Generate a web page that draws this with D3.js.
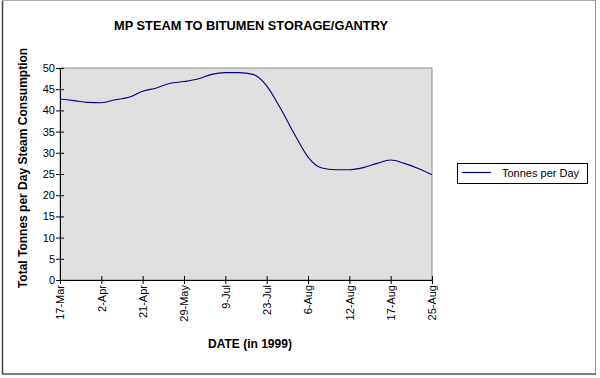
<!DOCTYPE html>
<html>
  <head>
    <meta charset="utf-8" />
    <title>MP Steam to Bitumen Storage/Gantry</title>
    <script src="https://d3js.org/d3.v7.min.js"></script>
    <style>
      body { margin: 0; background: #fff; }
      text { font-family: "Liberation Sans", Arial, sans-serif; }
    </style>
  </head>
  <body>
    <svg id="chart"></svg>
    <script>
      // label shown every 3rd point
      var dates = ["17-Mar", "", "", "2-Apr", "", "", "21-Apr", "", "", "29-May", "", "",
                   "9-Jul", "", "", "23-Jul", "", "", "6-Aug", "", "", "12-Aug", "", "",
                   "17-Aug", "", "", "25-Aug"];
      var tonnes = [42.7, 42.3, 41.9, 41.8, 42.5, 43.1, 44.5, 45.3, 46.4, 46.8, 47.4, 48.5,
                    48.9, 48.9, 48.5, 45.8, 40.5, 34.5, 29.0, 26.4, 26.0, 26.0, 26.5, 27.5,
                    28.3, 27.5, 26.3, 24.8];
      var yTicks = [0, 5, 10, 15, 20, 25, 30, 35, 40, 45, 50];

      var width = 600, height = 378;
      var margin = {top: 68, right: 168, bottom: 98, left: 60};
      var chartWidth = width - margin.left - margin.right;
      var chartHeight = height - margin.top - margin.bottom;

      var svg = d3.select("#chart").attr("width", width).attr("height", height);

      // outer frame
      svg.append("line").attr("x1", 2.5).attr("x2", 2.5).attr("y1", 0).attr("y2", 374)
        .attr("stroke", "#444").attr("stroke-width", 1.5);
      svg.append("line").attr("x1", 2).attr("x2", 596).attr("y1", 0.5).attr("y2", 0.5)
        .attr("stroke", "#aaa");
      svg.append("line").attr("x1", 595.5).attr("x2", 595.5).attr("y1", 0).attr("y2", 374)
        .attr("stroke", "#999");
      svg.append("line").attr("x1", 2).attr("x2", 596).attr("y1", 374).attr("y2", 374)
        .attr("stroke", "#555").attr("stroke-width", 1.5);

      var idx = d3.range(tonnes.length);
      var x = d3.scaleLinear().domain([0, tonnes.length - 1])
        .range([margin.left, margin.left + chartWidth]);
      var y = d3.scaleLinear().domain([0, 50])
        .range([margin.top + chartHeight, margin.top]);

      // plot background
      svg.append("rect")
        .attr("x", margin.left).attr("y", margin.top)
        .attr("width", chartWidth).attr("height", chartHeight)
        .attr("fill", "#e0e0e0").attr("stroke", "#8c8c8c");

      // y axis
      var yAxis = d3.axisLeft(y).tickValues(yTicks).tickSize(4).tickSizeOuter(0);
      var gy = svg.append("g")
        .attr("transform", "translate(" + margin.left + ",0)")
        .call(yAxis);
      gy.select(".domain").attr("stroke", "#000");
      gy.selectAll(".tick line").attr("stroke", "#000").attr("x2", 4).attr("x1", -4);
      gy.selectAll("text").attr("font-size", 11).attr("fill", "#000").attr("x", -5);

      // x axis, tick + label every 3rd point
      var labelIdx = idx.filter(function(i) { return dates[i] !== ""; });
      var xAxis = d3.axisBottom(x).tickValues(labelIdx)
        .tickFormat(function(i) { return dates[i]; })
        .tickSize(4).tickSizeOuter(0);
      var gx = svg.append("g")
        .attr("transform", "translate(0," + (margin.top + chartHeight) + ")")
        .call(xAxis);
      gx.select(".domain").attr("stroke", "#000");
      gx.selectAll(".tick line").attr("stroke", "#000").attr("y1", -4).attr("y2", 4);
      gx.selectAll("text")
        .attr("font-size", 11).attr("fill", "#000")
        .attr("transform", "rotate(-90)")
        .attr("x", -5).attr("y", 0).attr("dy", "0.35em")
        .attr("text-anchor", "end");

      // line
      var line = d3.line()
        .x(function(i) { return x(i); })
        .y(function(i) { return y(tonnes[i]); })
        .curve(d3.curveMonotoneX);
      svg.append("path").datum(idx)
        .attr("d", line)
        .attr("fill", "none")
        .attr("stroke", "#000080")
        .attr("stroke-width", 1.1);

      // title & axis titles
      svg.append("text")
        .attr("x", 251).attr("y", 29.5)
        .attr("text-anchor", "middle")
        .attr("font-size", 12.8).attr("font-weight", "bold")
        .text("MP STEAM TO BITUMEN STORAGE/GANTRY");

      svg.append("text")
        .attr("x", 250).attr("y", 348)
        .attr("text-anchor", "middle")
        .attr("font-size", 12).attr("font-weight", "bold")
        .text("DATE (in 1999)");

      svg.append("text")
        .attr("transform", "translate(27,168) rotate(-90)")
        .attr("text-anchor", "middle")
        .attr("font-size", 12).attr("font-weight", "bold")
        .text("Total Tonnes per Day Steam Consumption");

      // legend
      var lg = svg.append("g").attr("transform", "translate(457,163)");
      lg.append("rect").attr("x", 0.5).attr("y", 0.5).attr("width", 130).attr("height", 20)
        .attr("fill", "#fff").attr("stroke", "#000");
      lg.append("line").attr("x1", 5).attr("x2", 34).attr("y1", 9.5).attr("y2", 9.5)
        .attr("stroke", "#000080").attr("stroke-width", 1.2);
      lg.append("text").attr("x", 45).attr("y", 14)
        .attr("font-size", 11).text("Tonnes per Day");
    </script>
  </body>
</html>
